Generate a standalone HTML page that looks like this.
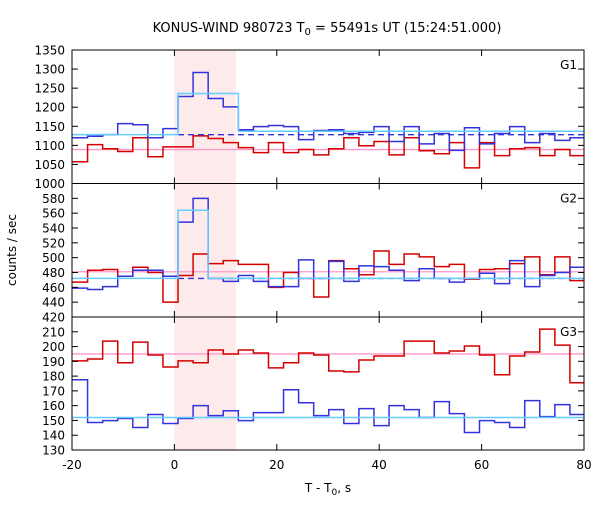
<!DOCTYPE html>
<html><head><meta charset="utf-8"><style>
body{margin:0;background:#fff;}
svg text{font-family:"DejaVu Sans","Liberation Sans",sans-serif;fill:#000;}
</style></head><body>
<svg id="chart" width="600" height="500" viewBox="0 0 600 500" xmlns="http://www.w3.org/2000/svg">
<text x="327" y="32" font-size="13" text-anchor="middle">KONUS-WIND 980723 T<tspan font-size="10" dy="3">0</tspan><tspan dy="-3"> = 55491s UT (15:24:51.000)</tspan></text>
<text x="16" y="250" font-size="12" text-anchor="middle" transform="rotate(-90 16 250)">counts / sec</text>
<text x="328" y="492" font-size="12" text-anchor="middle">T - T<tspan font-size="9" dy="3">0</tspan><tspan dy="-3">, s</tspan></text>
<g id="plots"></g>
</svg>
<script>
// data
const binStart = -19.9;
const binWidth = 2.944;
const xTicks = [-20, 0, 20, 40, 60, 80];
const shadeRange = [0, 12];
const panelNames = ["G1", "G2", "G3"];
const g1Blue = [1120,1124,1128,1157,1154,1120,1144,1228,1291,1223,1201,1141,1149,1152,1149,1115,1139,1141,1131,1134,1149,1110,1149,1104,1131,1087,1146,1104,1131,1149,1107,1131,1113,1120];
const g1Red = [1057,1102,1091,1084,1120,1070,1096,1096,1125,1118,1107,1094,1081,1107,1081,1089,1075,1091,1120,1099,1110,1075,1120,1086,1078,1107,1041,1107,1073,1091,1094,1073,1089,1073];
const g2Blue = [459,457,461,475,483,483,475,548,580,472,468,476,468,461,461,497,472,495,468,489,488,483,469,485,472,467,472,479,465,496,461,476,480,487];
const g2Red = [467,483,484,475,487,480,440,476,505,492,496,491,491,460,480,472,447,496,485,477,509,491,505,501,488,491,471,484,485,492,501,477,501,469];
const g3Blue = [177.5,148.6,149.9,151.3,145.2,154,147.9,151.3,160,153.3,156.6,149.9,155.3,155.3,170.8,162,153.3,157.3,147.9,158,146.5,160,157.3,152,162.7,154.6,141.8,149.9,148.6,145.2,163.4,152.6,160.7,154];
const g3Red = [190.3,191.6,203.7,189,203,194.3,186.2,190.3,189,197.7,195,197.7,195.6,185.6,189,195.6,194.3,183.5,182.9,190.9,193.6,193.6,203.7,203.7,195.6,197,200.4,194.3,180.9,193.6,196.3,211.8,201,175.5];
const g1FitEdges = [-20, 0.7, 12.5, 80];
const g1FitValues = [1128, 1236, 1137];
const g2FitEdges = [-20, 0.7, 6.6, 80];
const g2FitValues = [472, 564, 472];
const g3FitEdges = [-20, 80];
const g3FitValues = [152];
const bgLevels = [1089, 481, 195];
const dashedLevels = [1128, 472, null];
const dashedStart = 0.7;
const yRanges = [[1000,1350],[420,600],[130,220]];
const yTickSets = [[1000,1050,1100,1150,1200,1250,1300,1350],[420,440,460,480,500,520,540,560,580],[130,140,150,160,170,180,190,200,210]];

const NS = "http://www.w3.org/2000/svg";
const L = 72, R = 584;
const panelTops = [50, 183.5, 317];
const panelBots = [183.5, 317, 450];
const blues = [g1Blue, g2Blue, g3Blue];
const reds = [g1Red, g2Red, g3Red];
const fitEdges = [g1FitEdges, g2FitEdges, g3FitEdges];
const fitVals = [g1FitValues, g2FitValues, g3FitValues];
const xS = t => L + (t + 20) / 100 * (R - L);
const root = document.getElementById("plots");
function mk(tag, attrs, parent) {
  const e = document.createElementNS(NS, tag);
  for (const k in attrs) e.setAttribute(k, attrs[k]);
  (parent || root).appendChild(e);
  return e;
}
const clip = mk("clipPath", {id: "pc"});
mk("rect", {x: L, y: 50, width: R - L, height: 400}, clip);

function stepPath(vals, yS) {
  let d = "";
  vals.forEach((v, i) => {
    const x0 = xS(binStart + i * binWidth), x1 = xS(binStart + (i + 1) * binWidth), y = yS(v);
    d += (i === 0 ? "M" + x0 + "," + y : "L" + x0 + "," + y) + "L" + x1 + "," + y;
  });
  return d;
}
function edgePath(edges, vals, yS) {
  let d = "";
  vals.forEach((v, i) => {
    const y = yS(v);
    d += (i === 0 ? "M" : "L") + xS(edges[i]) + "," + y + "L" + xS(edges[i + 1]) + "," + y;
  });
  return d;
}

const shade = mk("rect", {x: xS(shadeRange[0]), y: 50, width: xS(shadeRange[1]) - xS(shadeRange[0]), height: 400, fill: "#fdeaea"});



for (let p = 0; p < 3; p++) {
  const top = panelTops[p], bot = panelBots[p], [lo, hi] = yRanges[p];
  const yS = v => bot - (v - lo) / (hi - lo) * (bot - top);
  const g = mk("g", {"clip-path": "url(#pc)"});
  
  
  const bg = mk("line", {x1: L, x2: R, y1: yS(bgLevels[p]), y2: yS(bgLevels[p]), stroke: "#ff99cc", "stroke-width": 1.3}, g);
  
  
  const rl = mk("path", {d: stepPath(reds[p], yS), fill: "none", stroke: "#d40000", "stroke-width": 1.5}, g);
  
  
  const bl = mk("path", {d: stepPath(blues[p], yS), fill: "none", stroke: "#3333dd", "stroke-width": 1.5}, g);
  
  
  if (dashedLevels[p] !== null) {
    const dl = mk("line", {x1: xS(dashedStart), x2: R, y1: yS(dashedLevels[p]), y2: yS(dashedLevels[p]), stroke: "#3333dd", "stroke-width": 1.3, "stroke-dasharray": "6,4"}, g);
    
    
  }
  const fl = mk("path", {d: edgePath(fitEdges[p], fitVals[p], yS), fill: "none", stroke: "#66ccff", "stroke-width": 1.5}, g);
  
  
  const fr = mk("rect", {x: L, y: top, width: R - L, height: bot - top, fill: "none", stroke: "#000", "stroke-width": 1});
  
  
  yTickSets[p].forEach(v => {
    const y = yS(v);
    mk("line", {x1: L, x2: L + 6, y1: y, y2: y, stroke: "#000"});
    mk("line", {x1: R - 6, x2: R, y1: y, y2: y, stroke: "#000"});
    const t = mk("text", {x: L - 7, y: y + 4.5, "font-size": 12, "text-anchor": "end"});
    t.textContent = v;
    
    
  });
  xTicks.forEach(v => {
    const x = xS(v);
    mk("line", {x1: x, x2: x, y1: top, y2: top + 6, stroke: "#000"});
    mk("line", {x1: x, x2: x, y1: bot - 6, y2: bot, stroke: "#000"});
  });
  const lab = mk("text", {x: 577, y: top + 19, "font-size": 12, "text-anchor": "end"});
  lab.textContent = panelNames[p];
  
  
}
xTicks.forEach(v => {
  const t = mk("text", {x: xS(v), y: 469, "font-size": 12, "text-anchor": "middle"});
  t.textContent = v;
  
  
});
</script>
</body></html>
